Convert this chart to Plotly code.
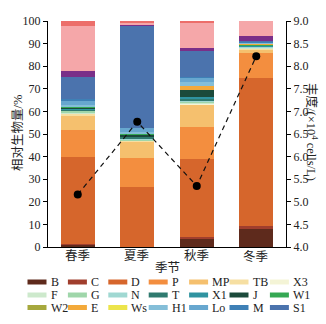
import plotly.graph_objects as go

# Seasons on the x axis
seasons = ["春季", "夏季", "秋季", "冬季"]

# Relative biomass (%) of each functional group, per season (bottom to top of the stack)
B  = [1.2, 0.0, 3.6, 8.0]
C  = [0.3, 0.0, 1.0, 1.5]
D  = [38.5, 26.6, 34.2, 65.1]
P  = [11.8, 12.7, 14.5, 11.4]
MP = [6.6, 7.4, 9.6, 1.6]
TB = [0.5, 0.3, 0.3, 0.3]
X3 = [0.3, 0.0, 0.3, 0.0]
F  = [0.5, 0.3, 0.5, 0.2]
G  = [0.5, 0.4, 0.3, 0.2]
N  = [0.3, 0.5, 0.4, 0.2]
T  = [0.4, 0.6, 1.2, 0.4]
X1 = [0.2, 0.3, 0.3, 0.2]
J  = [0.8, 0.8, 3.4, 0.2]
W1 = [0.1, 0.1, 0.0, 0.1]
W2 = [0.0, 0.0, 0.0, 0.0]
E  = [0.2, 0.0, 1.6, 0.5]
Ws = [0.0, 0.0, 0.0, 0.1]
H1 = [0.8, 1.0, 1.6, 0.3]
Lo = [1.5, 1.5, 2.0, 0.3]
M  = [1.0, 0.0, 0.4, 0.2]
S1 = [9.8, 45.4, 11.4, 0.3]
O1 = [2.7, 0.2, 1.4, 2.4]
O2 = [19.6, 1.0, 11.1, 6.5]
O3 = [2.4, 0.9, 0.9, 0.0]

# Abundance (×10^4 cells/L)
abundance = [5.16, 6.77, 5.35, 8.22]

group_names = ["B", "C", "D", "P", "MP", "TB", "X3", "F", "G", "N", "T", "X1", "J",
               "W1", "W2", "E", "Ws", "H1", "Lo", "M", "S1", "O1", "O2", "O3"]
group_values = [B, C, D, P, MP, TB, X3, F, G, N, T, X1, J,
                W1, W2, E, Ws, H1, Lo, M, S1, O1, O2, O3]
group_colors = ["#5e2a1c", "#a03e2d", "#d6662c", "#f38e3f", "#f5c06e", "#f6dfa2", "#f4f4d6",
                "#cde9cc", "#9fd6aa", "#a0d8d2", "#2f7a6f", "#2f93a0", "#1b4a3b", "#35a853",
                "#a6a83d", "#f3a93a", "#ece44b", "#84bed8", "#67a7cf", "#3e80b6", "#4b73ad",
                "#7a2f88", "#f5a7a9", "#ec6e6a"]
legend_count = 21  # groups shown in the legend (B ... S1)

W, H = 326, 324
ML, MR, MT, MB = 48, 40, 21, 77
PW, PH = W - ML - MR, H - MT - MB


def xp(px):
    return (px - ML) / PW


def yp(py):
    return (H - MB - py) / PH


SERIF = "Liberation Serif, Noto Sans CJK SC, serif"
TEXT = "#222222"

fig = go.Figure()

for name, vals, col in zip(group_names, group_values, group_colors):
    fig.add_trace(go.Bar(
        x=seasons, y=vals, name=name, marker=dict(color=col, line=dict(width=0)),
        showlegend=False, yaxis="y",
    ))

fig.add_trace(go.Scatter(
    x=seasons, y=abundance, mode="lines+markers", yaxis="y2", showlegend=False,
    line=dict(color="#111111", width=1.2, dash="5px,4px"),
    marker=dict(color="#000000", size=8),
))

shapes = []
annotations = []

# Legend: wide colour swatches with labels, seven per row
row_y = [282, 295, 307.5]
for i in range(legend_count):
    row, col = divmod(i, 7)
    x0 = 27.5 + 40.4 * col
    x1 = x0 + 19
    yc = row_y[row]
    shapes.append(dict(
        type="rect", xref="paper", yref="paper",
        x0=xp(x0), x1=xp(x1), y0=yp(yc + 2.5), y1=yp(yc - 2.5),
        fillcolor=group_colors[i], line=dict(width=0),
    ))
    annotations.append(dict(
        text=group_names[i], xref="paper", yref="paper", x=xp(x1 + 2), y=yp(yc),
        xanchor="left", yanchor="middle", showarrow=False,
        font=dict(family=SERIF, size=12, color=TEXT),
    ))

# Season labels centred under each bar
for k, s in enumerate(seasons):
    annotations.append(dict(
        text=s, xref="paper", yref="paper", x=(k + 0.5) / len(seasons), y=yp(256),
        xanchor="center", yanchor="middle", showarrow=False,
        font=dict(family=SERIF, size=12.5, color=TEXT),
    ))

annotations += [
    dict(text="相对生物量/%", xref="paper", yref="paper", x=xp(18), y=yp(133),
         textangle=-90, showarrow=False, xanchor="center", yanchor="middle",
         font=dict(family=SERIF, size=12.5, color=TEXT)),
    dict(text="丰度/(×10<sup>4</sup> cells/L)", xref="paper", yref="paper", x=xp(312),
         y=yp(132), textangle=90, showarrow=False, xanchor="center", yanchor="middle",
         font=dict(family=SERIF, size=12.5, color=TEXT)),
    dict(text="季节", xref="paper", yref="paper", x=0.5, y=yp(268),
         showarrow=False, xanchor="center", yanchor="middle",
         font=dict(family=SERIF, size=12.5, color=TEXT)),
]

fig.update_layout(
    width=W, height=H,
    margin=dict(l=ML, r=MR, t=MT, b=MB, pad=0),
    paper_bgcolor="white", plot_bgcolor="white",
    barmode="stack", bargap=0.43,
    font=dict(family=SERIF, size=12, color=TEXT),
    xaxis=dict(showline=True, linecolor="#000000", linewidth=1, ticks="",
               showticklabels=False, showgrid=False),
    yaxis=dict(range=[0, 100], dtick=10, showline=True, linecolor="#000000", linewidth=1,
               ticks="outside", ticklen=4, tickcolor="#000000", showgrid=False,
               zeroline=False, tickfont=dict(size=12)),
    yaxis2=dict(range=[4, 9], dtick=0.5, tickformat=".1f", overlaying="y", side="right",
                showline=True, linecolor="#000000", linewidth=1, ticks="outside",
                ticklen=4, tickcolor="#000000", showgrid=False, zeroline=False,
                tickfont=dict(size=12)),
    shapes=shapes,
    annotations=annotations,
)

fig.write_html("out.html")
